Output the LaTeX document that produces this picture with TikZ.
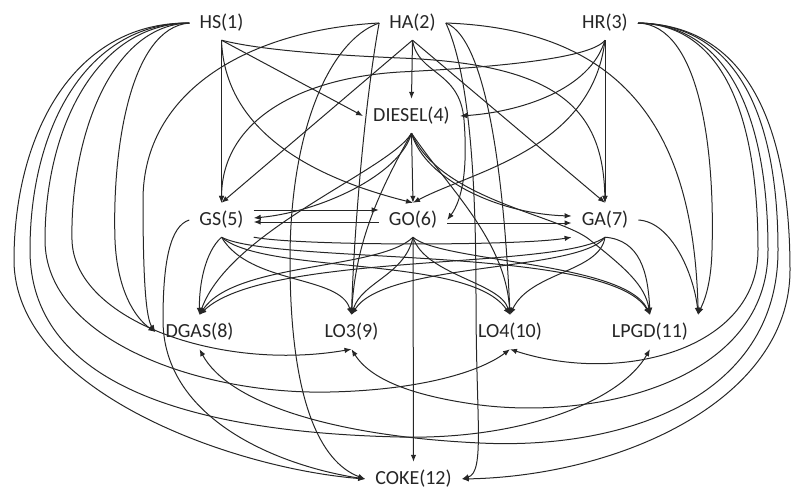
\documentclass[tikz,border=0pt]{standalone}
\usepackage{fontspec}
\setmainfont{Carlito}
\usetikzlibrary{arrows.meta}
\tikzset{
  unit/.style={font=\fontsize{20}{24}\selectfont, inner xsep=10pt, inner ysep=0pt,
               minimum height=34pt, text=black!85},
  flow/.style={line width=1pt, draw=black!85, -{Latex[length=7pt,width=5.5pt]}},
}
\begin{document}
\begin{tikzpicture}[x=1pt,y=-1pt]
\useasboundingbox (0,0) rectangle (795,490);

% process units
\node[unit] (HS)     at (221.5,23)  {HS(1)};
\node[unit] (HA)     at (412.5,23)  {HA(2)};
\node[unit] (HR)     at (605,23)    {HR(3)};
\node[unit] (DIESEL) at (411.5,116) {DIESEL(4)};
\node[unit] (GS)     at (221.5,220) {GS(5)};
\node[unit] (GO)     at (413,220)   {GO(6)};
\node[unit] (GA)     at (605,220)   {GA(7)};
\node[unit] (DGAS)   at (199.5,332) {DGAS(8)};
\node[unit] (LO3)    at (351.5,332) {LO3(9)};
\node[unit] (LO4)    at (510,332)   {LO4(10)};
\node[unit] (LPGD)   at (650,332)   {LPGD(11)};
\node[unit] (COKE)   at (413.5,479) {COKE(12)};

% streams leaving HS
\draw[flow] (HS.south) -- (GS.north);
\draw[flow] (HS.south) -- (DIESEL.west);
\draw[flow] (HS.south) .. controls (225,140) and (330,182) .. (GO.north);
\draw[flow] (HS.south) .. controls (260,50) and (330,55) .. (400,58) .. controls (560,64) and (603,110) .. (GA.north);
\draw[flow] (HS.west) .. controls (130,28) and (112,150) .. (115,240) .. controls (117,290) and (135,318) .. (DGAS.west);
\draw[flow] (HS.west) .. controls (110,25) and (70,140) .. (72,240) .. controls (74,320) and (220,372) .. (LO3.south);
\draw[flow] (HS.west) .. controls (95,24) and (45,130) .. (45,240) .. controls (45,340) and (200,395) .. (330,392) .. controls (420,390) and (480,372) .. (LO4.south);
\draw[flow] (HS.west) .. controls (85,23) and (30,130) .. (30,250) .. controls (30,380) and (180,432) .. (400,437) .. controls (520,440) and (620,402) .. (LPGD.south);
\draw[flow] (HS.west) .. controls (70,22) and (14,140) .. (14,260) .. controls (14,390) and (230,468) .. (COKE.west);

% streams leaving HA
\draw[flow] (HA.south) -- (DIESEL.north);
\draw[flow] (HA.south) -- (GS.north);
\draw[flow] (HA.south) -- (GA.north);
\draw[flow] (HA.south) .. controls (418,75) and (460,70) .. (464,120) .. controls (468,170) and (462,200) .. (GO.east);
\draw[flow] (HA.west) .. controls (250,30) and (143,90) .. (143,200) .. controls (143,280) and (146,318) .. (DGAS.west);
\draw[flow] (HA.west) .. controls (365,100) and (354,230) .. (LO3.north);
\draw[flow] (HA.west) .. controls (330,40) and (290,130) .. (290,260) .. controls (290,400) and (320,462) .. (COKE.west);
\draw[flow] (HA.east) .. controls (490,40) and (505,200) .. (LO4.north);
\draw[flow] (HA.east) .. controls (472,80) and (476,200) .. (476,300) .. controls (476,420) and (485,472) .. (COKE.east);
\draw[flow] (HA.east) .. controls (640,30) and (694,150) .. (LPGD.north east);

% streams leaving HR
\draw[flow] (HR.south) -- (GA.north);
\draw[flow] (HR.south) .. controls (590,90) and (520,112) .. (DIESEL.east);
\draw[flow] (HR.south) .. controls (590,60) and (480,68) .. (400,72) .. controls (300,78) and (222,120) .. (GS.north);
\draw[flow] (HR.south) .. controls (592,150) and (470,172) .. (GO.north);
\draw[flow] (HR.east) .. controls (700,25) and (715,150) .. (712,250) .. controls (711,290) and (702,305) .. (LPGD.north east);
\draw[flow] (HR.east) .. controls (730,25) and (758,130) .. (758,250) .. controls (758,350) and (620,385) .. (LO4.south);
\draw[flow] (HR.east) .. controls (740,25) and (768,140) .. (768,250) .. controls (768,380) and (600,420) .. (480,405) .. controls (420,397) and (372,382) .. (LO3.south);
\draw[flow] (HR.east) .. controls (750,25) and (778,140) .. (778,250) .. controls (778,400) and (620,450) .. (480,443) .. controls (330,436) and (228,402) .. (DGAS.south);
\draw[flow] (HR.east) .. controls (760,25) and (790,150) .. (790,270) .. controls (790,400) and (620,476) .. (COKE.east);

% streams leaving DIESEL
\draw[flow] (DIESEL.south) -- (GO.north);
\draw[flow] (DIESEL.south) .. controls (400,175) and (320,212) .. ([yshift=2pt]GS.east);
\draw[flow] (DIESEL.south) .. controls (390,170) and (230,230) .. (DGAS.north);
\draw[flow] (DIESEL.south) .. controls (425,180) and (500,214) .. ([yshift=4pt]GA.west);
\draw[flow] (DIESEL.south) .. controls (380,190) and (356,240) .. (LO3.north);
\draw[flow] (DIESEL.south) .. controls (450,190) and (505,240) .. (LO4.north);
\draw[flow] (DIESEL.south) .. controls (440,200) and (560,215) .. (590,240) .. controls (625,268) and (645,285) .. (LPGD.north);

% exchanges between GS, GO and GA
\draw[flow] ([yshift=10pt]GS.east) -- ([yshift=10pt]GO.west);
\draw[flow] ([yshift=-2pt]GO.west) -- ([yshift=-2pt]GS.east);
\draw[flow] ([yshift=-3pt]GO.east) -- ([yshift=-3pt]GA.west);

% streams leaving GS
\draw[flow] (GS.south) .. controls (205,252) and (199,285) .. (DGAS.north);
\draw[flow] (GS.south) .. controls (250,285) and (340,275) .. (LO3.north);
\draw[flow] (GS.south) .. controls (265,275) and (470,255) .. (LO4.north);
\draw[flow] (GS.south) .. controls (275,265) and (610,245) .. (LPGD.north);
\draw[flow] (GS.south east) .. controls (300,246) and (520,246) .. (GA.south west);
\draw[flow] (GS.west) .. controls (170,226) and (163,262) .. (163,320) .. controls (163,420) and (280,466) .. (COKE.west);

% streams leaving GO
\draw[flow] (GO.south) -- (COKE.north);
\draw[flow] (GO.south) .. controls (380,270) and (235,262) .. (DGAS.north);
\draw[flow] (GO.south) .. controls (405,275) and (362,282) .. (LO3.north);
\draw[flow] (GO.south) .. controls (425,275) and (500,282) .. (LO4.north);
\draw[flow] (GO.south) .. controls (440,262) and (625,262) .. (LPGD.north);

% streams leaving GA
\draw[flow] (GA.south) .. controls (560,270) and (265,252) .. (DGAS.north);
\draw[flow] (GA.south) .. controls (580,272) and (385,262) .. (LO3.north);
\draw[flow] (GA.south) .. controls (600,272) and (530,272) .. (LO4.north);
\draw[flow] (GA.south) .. controls (640,240) and (648,272) .. (LPGD.north);
\draw[flow] (GA.east) .. controls (672,222) and (694,275) .. (LPGD.north east);
\end{tikzpicture}
\end{document}
